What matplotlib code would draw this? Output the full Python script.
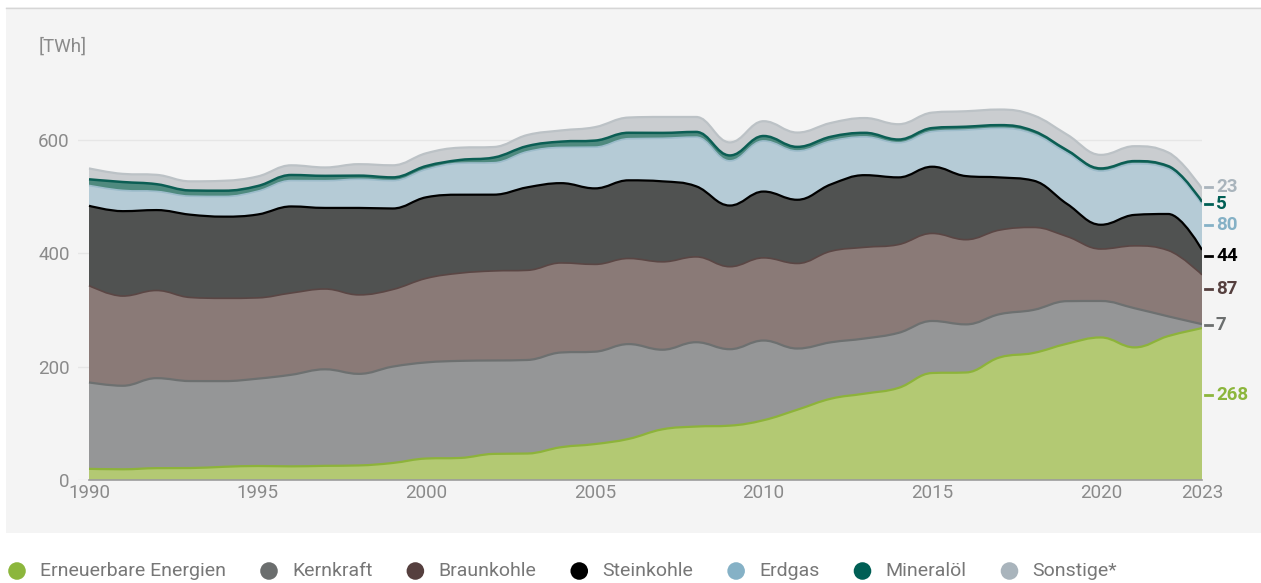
import matplotlib
matplotlib.use("Agg")
import matplotlib.pyplot as plt
import matplotlib.transforms as mtransforms
from matplotlib.path import Path
from matplotlib.patches import PathPatch, Rectangle
import numpy as np

plt.rcParams['font.family'] = ['Roboto', 'DejaVu Sans']

# Bruttostromerzeugung nach Energieträgern [TWh]
years = list(range(1990, 2024))
erneuerbare = [19.7, 18.9, 20.9, 21.1, 23.3, 24.7, 24.1, 25.0, 25.7, 30.0,
               37.9, 38.9, 46.1, 46.7, 57.9, 63.4, 72.5, 89.4, 94.3, 95.9,
               105.5, 124.0, 143.5, 152.4, 162.5, 188.8, 189.7, 216.3, 224.1, 240.5,
               251.5, 234.0, 254.0, 268]
kernkraft = [152.5, 147.4, 158.8, 153.5, 151.2, 154.1, 161.6, 170.3, 161.6, 170.0,
             169.6, 171.3, 164.8, 165.1, 167.1, 163.0, 167.3, 140.5, 148.8, 134.9,
             140.6, 108.0, 99.5, 97.3, 97.1, 91.8, 84.9, 76.3, 76.0, 75.1,
             64.4, 69.1, 34.7, 7]
braunkohle = [170.9, 158.3, 154.7, 147.5, 146.1, 142.6, 144.3, 141.7, 139.4, 136.0,
              148.3, 154.8, 158.0, 158.2, 158.0, 154.1, 151.1, 155.1, 150.6, 145.6,
              145.9, 150.1, 160.7, 160.9, 155.8, 154.5, 149.5, 148.4, 145.6, 114.0,
              91.7, 110.1, 116.3, 87]
steinkohle = [140.8, 149.8, 141.9, 146.1, 144.1, 147.1, 152.7, 143.1, 153.4, 143.1,
              143.1, 138.4, 134.6, 146.5, 140.8, 134.1, 137.9, 142.0, 124.6, 107.9,
              117.0, 112.4, 118.0, 127.3, 118.6, 117.7, 112.2, 92.9, 82.6, 57.5,
              42.8, 54.6, 64.4, 44]
erdgas = [35.9, 36.6, 32.9, 32.6, 35.6, 41.1, 45.6, 48.0, 50.6, 49.1,
          49.2, 55.5, 56.3, 62.9, 63.0, 72.7, 73.4, 75.9, 86.7, 78.8,
          89.3, 86.1, 76.4, 67.5, 61.1, 62.0, 81.3, 86.7, 82.5, 89.9,
          94.7, 90.3, 79.8, 80]
mineraloel = [10.8, 14.8, 12.8, 10.1, 10.2, 9.1, 9.9, 8.6, 6.4, 5.8,
              5.9, 5.8, 9.2, 9.9, 10.3, 11.6, 10.5, 9.6, 9.2, 9.6,
              8.7, 7.2, 7.6, 7.2, 5.7, 6.2, 5.8, 5.6, 5.2, 4.8,
              4.7, 4.6, 4.7, 5]
sonstige = [19.3, 14.4, 16.5, 16.1, 17.5, 16.9, 17.1, 14.8, 20.2, 21.3,
            22.6, 21.7, 18.6, 19.5, 19.7, 23.7, 26.9, 28.1, 26.4, 23.0,
            26.1, 25.3, 24.4, 26.1, 27.0, 27.3, 27.3, 27.5, 27.5, 27.6,
            23.9, 26.3, 24.0, 23]

names = ['Erneuerbare Energien', 'Kernkraft', 'Braunkohle', 'Steinkohle',
         'Erdgas', 'Mineralöl', 'Sonstige*']
series = [erneuerbare, kernkraft, braunkohle, steinkohle, erdgas, mineraloel, sonstige]
fill_colors = ['#b3c973', '#959697', '#8a7a77', '#505251', '#b5cbd6', '#4f8a7f', '#cacdd0']
line_colors = ['#8db33a', '#6d7070', '#5a4644', '#000000', '#9dbccb', '#0b5e54', '#bcc2c6']
line_widths = [1.6, 1.6, 1.2, 1.6, 1.2, 1.8, 1.6]
key_colors = ['#8cb63c', '#6b6e6e', '#553f3e', '#000000', '#85b1c6', '#005f55', '#a9b4bc']
# vertical placement of the end labels (TWh) so they do not overlap
label_y = [150, 273, 337, 395, 450, 487, 517]

W, H = 1261, 583
GREY_TXT = '#8a8a8a'


def spline(xs, ys, smoothing=1.5):
    # smooth cubic path through all points, control points kept between neighbours
    n = len(xs)
    lx, ly = list(xs), list(ys)
    rx, ry = list(xs), list(ys)
    d = smoothing + 1
    for i in range(1, n - 1):
        px, py = xs[i], ys[i]
        ax_, ay = xs[i - 1], ys[i - 1]
        nx, ny = xs[i + 1], ys[i + 1]
        lcx = (smoothing * px + ax_) / d
        lcy = (smoothing * py + ay) / d
        rcx = (smoothing * px + nx) / d
        rcy = (smoothing * py + ny) / d
        corr = (rcy - lcy) * (rcx - px) / (rcx - lcx) + py - rcy
        lcy += corr
        rcy += corr
        if lcy > ay and lcy > py:
            lcy = max(ay, py)
            rcy = 2 * py - lcy
        elif lcy < ay and lcy < py:
            lcy = min(ay, py)
            rcy = 2 * py - lcy
        if rcy > ny and rcy > py:
            rcy = max(ny, py)
            lcy = 2 * py - rcy
        elif rcy < ny and rcy < py:
            rcy = min(ny, py)
            lcy = 2 * py - rcy
        lx[i], ly[i], rx[i], ry[i] = lcx, lcy, rcx, rcy
    verts = [(xs[0], ys[0])]
    for i in range(1, n):
        verts += [(rx[i - 1], ry[i - 1]), (lx[i], ly[i]), (xs[i], ys[i])]
    codes = [Path.MOVETO] + [Path.CURVE4] * (len(verts) - 1)
    return verts, codes


fig = plt.figure(figsize=(W / 100, H / 100), dpi=100, facecolor='white')

# backdrop panel and legend layer in pixel coordinates
bg = fig.add_axes([0, 0, 1, 1], zorder=0)
bg.set_xlim(0, W)
bg.set_ylim(H, 0)
bg.axis('off')
bg.add_patch(Rectangle((6, 7), W - 6, 526, facecolor='#f4f4f4', edgecolor='none'))
bg.plot([6, W], [7.5, 7.5], color='#d6d6d6', lw=1)

px_per_year = (1202 - 89) / 33
x_left = 1990 - (89 - 78) / px_per_year
ax = fig.add_axes([78 / W, (H - 480) / H, (1202 - 78) / W, (480 - 83.3) / H], zorder=1)
ax.set_facecolor('none')
ax.set_xlim(x_left, 2023)
ax.set_ylim(0, 700)

x = list(np.array(years, dtype=float))
bottom = np.zeros(len(years))
top_paths = []
for vals, fc in zip(series, fill_colors):
    top = bottom + np.array(vals, dtype=float)
    tv, tc = spline(x, list(top))
    bv, bc = spline(x, list(bottom))
    verts = tv + bv[::-1] + [tv[0]]
    codes = tc + [Path.LINETO] + [Path.CURVE4] * (len(bv) - 1) + [Path.CLOSEPOLY]
    ax.add_patch(PathPatch(Path(verts, codes), facecolor=fc, edgecolor='none', zorder=2))
    top_paths.append((tv, tc))
    bottom = top

for (tv, tc), lc, lw in zip(top_paths, line_colors, line_widths):
    ax.add_patch(PathPatch(Path(tv, tc), fill=False, edgecolor=lc, lw=lw,
                           capstyle='butt', joinstyle='round', zorder=3))

# grid and axes
for v in [0, 200, 400, 600]:
    ax.axhline(v, color='#e6e6e6', lw=1, zorder=1)
ax.plot([1990, 2023], [0, 0], color='#9c9c9c', lw=1.2, zorder=4, clip_on=False)
for s in ax.spines.values():
    s.set_visible(False)
ax.set_yticks([0, 200, 400, 600])
ax.set_xticks([1990, 1995, 2000, 2005, 2010, 2015, 2020, 2023])
ax.tick_params(length=0, labelsize=13.5, labelcolor=GREY_TXT)
ax.tick_params(axis='y', pad=6)
ax.tick_params(axis='x', pad=3)

# end-of-series value labels
trans = mtransforms.blended_transform_factory(ax.transAxes, ax.transData)
x_w = 1202 - 78
for vals, col, yl in zip(series, key_colors, label_y):
    ax.plot([(1205 - 78) / x_w, (1212 - 78) / x_w], [yl, yl], color=col, lw=2,
            transform=trans, clip_on=False)
    ax.text((1216 - 78) / x_w, yl, f'{vals[-1]:g}', transform=trans, color=col,
            fontsize=13.5, fontweight='bold', ha='left', va='center')

bg.text(39, 47, '[TWh]', fontsize=13.5, color=GREY_TXT, ha='left', va='center')

# legend row
fig.canvas.draw()
renderer = fig.canvas.get_renderer()
xpos = 17
for name, col in zip(names, key_colors):
    bg.scatter([xpos], [571], s=160, color=col, edgecolors='none')
    t = bg.text(xpos + 23, 571, name, fontsize=14, color='#777777', ha='left', va='center')
    ext = t.get_window_extent(renderer)
    xpos = ext.x1 + 43

fig.savefig('out.png', dpi=100, facecolor='white')
